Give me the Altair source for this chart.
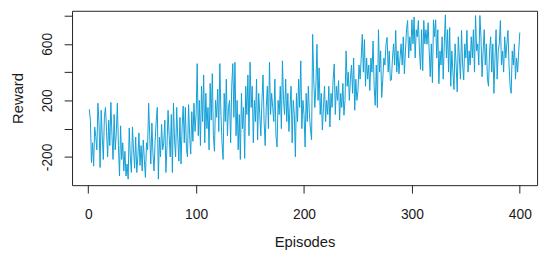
import altair as alt
import pandas as pd

reward = [
    137, 60, -240, -100, -265, 12, -57, -150, 180, 40,
    -275, 130, -60, -218, 90, 150, -20, -200, 60, -120,
    186, -50, -218, 100, -150, -30, 180, -120, -335, 20,
    -218, -100, -300, -160, -335, -250, -357, 5, -200, -310,
    12, -150, -280, -60, -310, -200, -30, -260, -120, -300,
    -80, -220, -345, -100, -150, 180, -50, -250, 40, -180,
    -300, -90, 50, 150, -357, -60, -200, 30, -150, -100,
    60, -310, -120, 130, -50, -200, 100, -310, 180, -80,
    -200, 150, -60, -230, 80, -250, 10, 160, -100, 150,
    -140, -200, 170, -50, -180, 120, -90, 180, -20, 100,
    460, -50, 200, -120, 300, 50, 380, -100, 250, 0,
    150, -150, 320, 60, 390, -50, -160, 200, 80, 280,
    -20, 460, 100, -100, -218, 250, 50, 350, -50, 150,
    200, -100, 300, 460, 80, 470, -50, 200, -150, 100,
    -218, 250, 0, 150, -210, 300, 100, 380, -50, 470,
    150, 300, -100, 200, 50, 350, -80, 250, 100, -50,
    200, 380, 50, -120, 150, 300, 0, 470, 100, 250,
    150, 50, 350, -50, -130, 200, 100, 300, 0, 480,
    200, 100, 350, 50, 250, -20, 150, 300, -100, 200,
    100, -200, 250, 50, 350, 150, 480, 0, 200, 100,
    -130, 250, 50, 300, 100, -10, -79, 667, 350, 150,
    300, 597, 200, 430, 100, 250, -10, 150, 300, 50,
    200, 100, 300, 12, 250, 150, 350, 458, 100, 300,
    200, 340, 60, 250, 150, 320, 95, 200, 550, 300,
    400, 200, 350, 450, 250, 500, 130, 350, 200, 270,
    450, 350, 500, 667, 400, 630, 300, 500, 350, 450,
    270, 500, 400, 620, 300, 165, 450, 150, 700, 400,
    550, 220, 350, 500, 450, 600, 645, 400, 550, 340,
    345, 500, 600, 450, 695, 400, 550, 388, 500, 600,
    450, 650, 388, 550, 700, 765, 500, 650, 550, 770,
    600, 790, 500, 700, 650, 765, 550, 420, 700, 410,
    765, 600, 700, 597, 750, 550, 367, 600, 325, 770,
    650, 770, 500, 700, 318, 550, 450, 650, 350, 600,
    805, 500, 700, 400, 715, 300, 550, 400, 277, 600,
    450, 260, 650, 500, 350, 695, 450, 345, 600, 500,
    695, 400, 550, 450, 650, 500, 700, 400, 800, 550,
    600, 450, 800, 650, 367, 550, 700, 450, 600, 350,
    300, 550, 650, 400, 600, 250, 500, 700, 350, 550,
    600, 765, 450, 550, 400, 650, 500, 600, 695, 450,
    300, 250, 550, 450, 600, 350, 500, 400, 550, 680,
]
episodes = list(range(1, len(reward) + 1))

x_ticks = [0, 100, 200, 300, 400]
y_ticks = [-200, 0, 200, 400, 600, 800]
y_labeled = [-200, 200, 600]

df = pd.DataFrame({"Episodes": episodes, "Reward": reward})

FONT = "Liberation Sans"
TXT = "#1a1a1a"

chart = alt.Chart(df).mark_line(color="#109ed6", strokeWidth=1).encode(
    x=alt.X(
        "Episodes:Q",
        scale=alt.Scale(domain=[-15, 416], nice=False, zero=False),
        axis=alt.Axis(
            values=x_ticks, title="Episodes", grid=False, domain=False,
            tickSize=8, tickColor="#222", labelPadding=26,
            labelBaseline="alphabetic", labelFont=FONT, labelFontSize=14,
            labelColor=TXT, titleFont=FONT, titleFontSize=15,
            titleFontWeight="normal", titleColor=TXT,
            titleBaseline="alphabetic", titleY=62,
        ),
    ),
    y=alt.Y(
        "Reward:Q",
        scale=alt.Scale(domain=[-400, 834], nice=False, zero=False),
        axis=alt.Axis(
            values=y_ticks, title="Reward", grid=False, domain=False,
            tickSize=8, tickColor="#222", labelPadding=13,
            labelAngle=-90, labelAlign="center", labelBaseline="alphabetic",
            labelExpr="indexof([-200, 200, 600], datum.value) >= 0 ? '' + datum.value : ''",
            labelFont=FONT, labelFontSize=14, labelColor=TXT,
            titleFont=FONT, titleFontSize=15, titleFontWeight="normal",
            titleColor=TXT, titleBaseline="alphabetic", titleAngle=-90,
            titleAlign="center", titleX=-50,
        ),
    ),
).properties(
    width=472,
    height=177,
    autosize=alt.AutoSizeParams(type="none"),
    padding={"left": 65, "top": 1, "right": 5, "bottom": 66},
    background="white",
).configure_view(stroke="#222", strokeWidth=1)

chart.save("out.html", embed_options={"renderer": "svg", "actions": False})
